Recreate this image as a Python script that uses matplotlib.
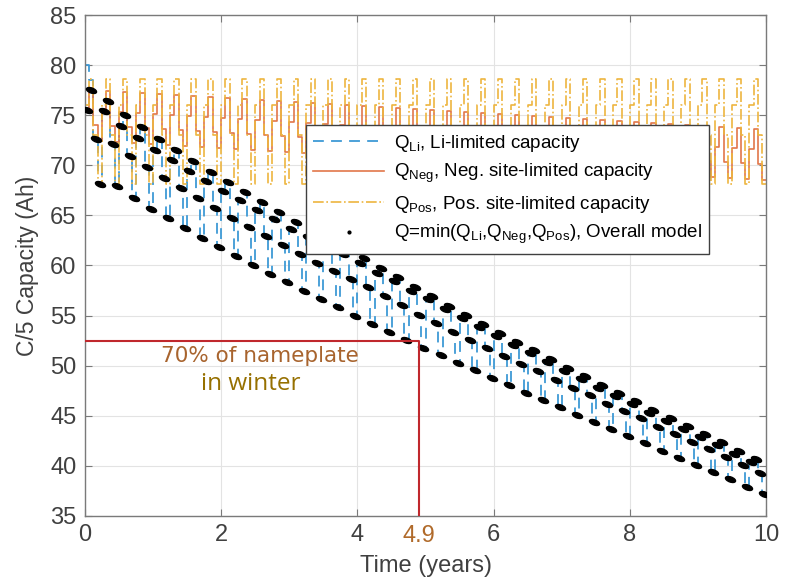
import matplotlib
matplotlib.use("Agg")
import matplotlib.pyplot as plt
import numpy as np
from matplotlib.lines import Line2D
from matplotlib.path import Path

# one row of values per season (4 seasons per year, 10 years)
season_years = 0.25
plateau_starts = [0.0, 0.0625, 0.125, 0.1875]

# Q_Li plateaus inside each season: first, top, middle, bottom
q_li_first = [80.0, 75.4, 73.9, 72.7, 71.5, 70.5, 69.4, 68.4, 67.4, 66.5,
              65.5, 64.6, 63.6, 62.8, 61.9, 61.1, 60.2, 59.2, 58.4, 57.4,
              56.6, 55.6, 54.8, 53.9, 53.0, 52.1, 51.3, 50.4, 49.5, 48.7,
              47.8, 47.0, 46.2, 45.3, 44.5, 43.7, 42.9, 42.1, 41.2, 40.4]
q_li_top = [78.5, 76.4, 75.0, 73.8, 72.6, 71.5, 70.4, 69.3, 68.3, 67.3,
            66.3, 65.3, 64.3, 63.4, 62.5, 61.6, 60.7, 59.7, 58.8, 57.8,
            56.9, 55.9, 55.1, 54.2, 53.3, 52.4, 51.6, 50.7, 49.8, 49.0,
            48.1, 47.3, 46.5, 45.6, 44.8, 44.0, 43.2, 42.4, 41.5, 40.7]
q_li_mid = [72.6, 72.1, 70.9, 69.8, 68.7, 67.7, 66.7, 65.7, 64.7, 63.8,
            62.9, 62.0, 61.1, 60.2, 59.4, 58.6, 57.8, 56.9, 56.0, 55.1,
            54.3, 53.4, 52.6, 51.8, 51.0, 50.2, 49.5, 48.6, 47.8, 47.1,
            46.2, 45.5, 44.8, 43.9, 43.2, 42.4, 41.7, 40.9, 40.1, 39.3]
q_li_low = [69.0, 67.9, 66.7, 65.6, 64.7, 63.7, 62.7, 61.8, 60.9, 60.0,
            59.1, 58.3, 57.4, 56.6, 55.8, 55.0, 54.2, 53.4, 52.6, 51.8,
            51.1, 50.3, 49.6, 48.8, 48.1, 47.3, 46.6, 45.9, 45.1, 44.4,
            43.7, 43.0, 42.3, 41.5, 40.8, 40.1, 39.4, 38.7, 37.9, 37.2]

# Q_Neg plateaus: rise, peak, shoulder, low
q_neg_rise = [75.5, 75.4, 75.3, 75.2, 75.1, 75.0, 74.9, 74.8, 74.7, 74.6,
              74.5, 74.4, 74.3, 74.2, 74.1, 74.0, 73.9, 73.8, 73.7, 73.6,
              73.5, 73.4, 73.3, 73.2, 73.1, 73.0, 72.9, 72.8, 72.7, 72.6,
              72.5, 72.4, 72.3, 72.2, 72.1, 72.0, 71.9, 71.8, 71.7, 71.6]
q_neg_peak = [77.5, 77.4, 77.3, 77.2, 77.1, 77.0, 76.9, 76.8, 76.7, 76.6,
              76.5, 76.4, 76.3, 76.2, 76.1, 76.0, 75.9, 75.8, 75.7, 75.6,
              75.5, 75.4, 75.3, 75.2, 75.1, 75.0, 74.9, 74.8, 74.7, 74.6,
              74.5, 74.4, 74.3, 74.2, 74.1, 74.0, 73.9, 73.8, 73.7, 73.6]
q_neg_shoulder = [74.0, 73.9, 73.8, 73.7, 73.6, 73.5, 73.4, 73.3, 73.2, 73.1,
                  73.0, 72.9, 72.8, 72.7, 72.6, 72.5, 72.4, 72.3, 72.2, 72.1,
                  72.0, 71.9, 71.8, 71.7, 71.6, 71.5, 71.4, 71.3, 71.2, 71.1,
                  71.0, 70.9, 70.8, 70.7, 70.6, 70.5, 70.4, 70.3, 70.2, 70.1]
q_neg_low = [72.4, 72.3, 72.2, 72.1, 72.0, 71.9, 71.8, 71.7, 71.6, 71.5,
             71.4, 71.3, 71.2, 71.1, 71.0, 70.9, 70.8, 70.7, 70.6, 70.5,
             70.4, 70.3, 70.2, 70.1, 70.0, 69.9, 69.8, 69.7, 69.6, 69.5,
             69.4, 69.3, 69.2, 69.1, 69.0, 68.9, 68.8, 68.7, 68.6, 68.5]

# Q_Pos repeats the same seasonal profile every season
q_pos_season = [76.0, 78.6, 73.0, 68.1]

n_seasons = len(q_li_low)
season_start = np.arange(n_seasons) * season_years
t = (season_start[:, None] + np.array(plateau_starts)[None, :]).ravel()
t_mid = t + plateau_starts[1] / 2

q_li = np.column_stack([q_li_first, q_li_top, q_li_mid, q_li_low]).ravel()
q_neg = np.column_stack([q_neg_rise, q_neg_peak, q_neg_shoulder, q_neg_low]).ravel()
q_pos = np.tile(q_pos_season, n_seasons)
q_all = np.minimum(np.minimum(q_li, q_neg), q_pos)

t_line = np.append(t, 10.0)

plt.rcParams.update({"font.family": ["Liberation Sans", "DejaVu Sans"], "font.size": 13,
                     "mathtext.default": "regular", "axes.linewidth": 1.0})
ink = "#404040"
frame = "#7A7A7A"
blue, orange, yellow = "#3E9AD6", "#E2774A", "#EDB53F"

fig = plt.figure(figsize=(7.86, 5.77), dpi=100)
ax = fig.add_axes([0.108, 0.106, 0.867, 0.868])

ax.plot(t_line, np.append(q_li, q_li[-1]), drawstyle="steps-post", color=blue, lw=1.3, dashes=(6, 4))
ax.plot(t_line, np.append(q_neg, q_neg[-1]), drawstyle="steps-post", color=orange, lw=1.2)
ax.plot(t_line, np.append(q_pos, q_pos[-1]), drawstyle="steps-post", color=yellow, lw=1.2, linestyle="-.")

# small tilted dash used for the overall-model samples
circle = Path.unit_circle()
angle = np.deg2rad(-20)
rot = np.array([[np.cos(angle), np.sin(angle)], [-np.sin(angle), np.cos(angle)]])
dash_mark = Path((circle.vertices * [1.0, 0.48]) @ rot, circle.codes)
ax.plot(t_mid, q_all, linestyle="none", marker=dash_mark, ms=7.5, color="black", zorder=4)

# 70 % of nameplate marker
ax.plot([0, 4.9, 4.9], [52.5, 52.5, 35], color="#C0282D", lw=1.5, zorder=5)
ax.text(2.57, 51.0, "70% of nameplate", color="#A8642E", ha="center", va="center",
        fontsize=15.5, family="DejaVu Sans")
ax.text(2.43, 48.2, "in winter", color="#967000", ha="center", va="center",
        fontsize=17.5, family="Open Sans")
ax.text(4.9, -0.018, "4.9", transform=ax.get_xaxis_transform(), color="#B06A2A",
        ha="center", va="top", fontsize=17)

ax.set_xlim(0, 10)
ax.set_ylim(35, 85)
ax.set_xticks(range(0, 11, 2))
ax.set_yticks(range(35, 86, 5))
ax.grid(True, color="#E3E3E3", lw=0.8)
ax.set_axisbelow(True)
ax.tick_params(direction="in", top=True, right=True, color=frame, labelcolor=ink,
               labelsize=17, length=5, pad=6)
for spine in ax.spines.values():
    spine.set_color(frame)
ax.set_xlabel("Time (years)", color=ink, fontsize=17, labelpad=6)
ax.set_ylabel("C/5 Capacity (Ah)", color=ink, fontsize=16.5, labelpad=8)

handles = [Line2D([], [], color=blue, lw=1.3, dashes=(6, 4)),
           Line2D([], [], color=orange, lw=1.2),
           Line2D([], [], color=yellow, lw=1.2, linestyle="-."),
           Line2D([], [], color="black", marker=".", ms=4, linestyle="none")]
labels = [r"$Q_{Li}$, Li-limited capacity",
          r"$Q_{Neg}$, Neg. site-limited capacity",
          r"$Q_{Pos}$, Pos. site-limited capacity",
          r"Q=min($Q_{Li}$,$Q_{Neg}$,$Q_{Pos}$), Overall model"]
leg = ax.legend(handles, labels, loc="upper left", bbox_to_anchor=(0.324, 0.78), borderaxespad=0,
                fontsize=13.5, handlelength=3.8, frameon=True, fancybox=False, framealpha=1,
                edgecolor=ink, labelspacing=0.45, borderpad=0.4, handletextpad=0.5)
leg.get_frame().set_linewidth(1.0)
leg.set_zorder(6)

fig.savefig("out.png", dpi=100, facecolor="white")
